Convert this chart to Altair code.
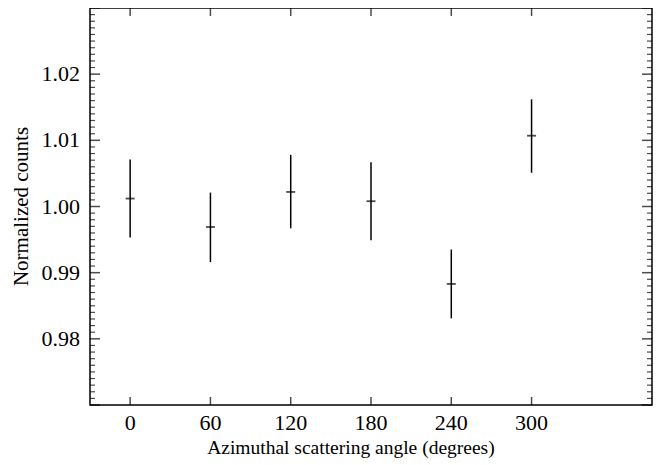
import altair as alt
import pandas as pd

angles = [0, 60, 120, 180, 240, 300]
counts = [1.0012, 0.9969, 1.0022, 1.0008, 0.9883, 1.0107]
lows = [0.9953, 0.9916, 0.9967, 0.9949, 0.9831, 1.0051]
highs = [1.0071, 1.0021, 1.0078, 1.0067, 0.9935, 1.0162]

x_ticks = [0, 60, 120, 180, 240, 300]
y_labels = [0.98, 0.99, 1.00, 1.01, 1.02]
y_major = [0.97, 0.98, 0.99, 1.00, 1.01, 1.02, 1.03]
y_minor = [round(0.97 + i * 0.001, 3) for i in range(61) if i % 10 != 0]

X_TITLE = "Azimuthal scattering angle (degrees)"
Y_TITLE = "Normalized counts"

X_MIN, X_MAX = -30, 390
Y_MIN, Y_MAX = 0.97, 1.03
X_TITLE_AT = 165
Y_TITLE_AT = 1.0
Y_TITLE_X = -81

W, H = 562, 397
FONT = "Liberation Serif"

df = pd.DataFrame({"angle": angles, "counts": counts, "low": lows, "high": highs})
ymaj_df = pd.DataFrame({"v": y_major})
ymin_df = pd.DataFrame({"v": y_minor})
xt_df = pd.DataFrame({"v": x_ticks})
ylab_df = pd.DataFrame({"v": y_labels})
xtitle_df = pd.DataFrame({"t": [X_TITLE]})
ytitle_df = pd.DataFrame({"t": [Y_TITLE]})

xs = alt.Scale(domain=[X_MIN, X_MAX], nice=False, zero=False)
ys = alt.Scale(domain=[Y_MIN, Y_MAX], nice=False, zero=False)

bars = alt.Chart(df).mark_rule(color="black", strokeWidth=1.5).encode(
    x=alt.X("angle:Q", scale=xs, axis=None),
    y=alt.Y("low:Q", scale=ys, axis=None),
    y2="high:Q",
)

centers = alt.Chart(df).mark_tick(orient="horizontal", color="black", size=9,
                                  thickness=1.8).encode(
    x=alt.X("angle:Q", scale=xs, axis=None),
    y=alt.Y("counts:Q", scale=ys, axis=None),
)


def ytick(data, at, length, offset, width):
    return alt.Chart(data).mark_tick(orient="horizontal", color="black", size=length,
                                     thickness=width, xOffset=offset).encode(
        x=alt.XDatum(at, scale=xs, axis=None),
        y=alt.Y("v:Q", scale=ys, axis=None),
    )


def xtick(at, offset):
    return alt.Chart(xt_df).mark_tick(orient="vertical", color="black", size=8,
                                      thickness=1.5, yOffset=offset).encode(
        x=alt.X("v:Q", scale=xs, axis=None),
        y=alt.YDatum(at, scale=ys, axis=None),
    )


ylabels = alt.Chart(ylab_df).mark_text(font=FONT, fontSize=22, color="black",
                                       align="right", baseline="middle", dx=-10).encode(
    x=alt.XDatum(X_MIN, scale=xs, axis=None),
    y=alt.Y("v:Q", scale=ys, axis=None),
    text=alt.Text("v:Q", format=".2f"),
)

xlabels = alt.Chart(xt_df).mark_text(font=FONT, fontSize=22, color="black",
                                     align="center", baseline="top", dy=8).encode(
    x=alt.X("v:Q", scale=xs, axis=None),
    y=alt.YDatum(Y_MIN, scale=ys, axis=None),
    text=alt.Text("v:Q", format="d"),
)

xtitle = alt.Chart(xtitle_df).mark_text(font=FONT, fontSize=19.5, color="black",
                                        align="center", baseline="middle", dy=43).encode(
    x=alt.XDatum(X_TITLE_AT, scale=xs, axis=None),
    y=alt.YDatum(Y_MIN, scale=ys, axis=None),
    text="t:N",
)

ytitle = alt.Chart(ytitle_df).mark_text(font=FONT, fontSize=21, color="black",
                                        align="center", baseline="middle",
                                        angle=270).encode(
    x=alt.XDatum(Y_TITLE_X, scale=xs, axis=None),
    y=alt.YDatum(Y_TITLE_AT, scale=ys, axis=None),
    text="t:N",
)

layers = [
    bars,
    centers,
    ytick(ymaj_df, X_MIN, 10, 5, 1.5),
    ytick(ymin_df, X_MIN, 5, 2.5, 1.2),
    ytick(ymaj_df, X_MAX, 10, -5, 1.5),
    ytick(ymin_df, X_MAX, 5, -2.5, 1.2),
    xtick(Y_MIN, -4),
    xtick(Y_MAX, 4),
    ylabels,
    xlabels,
    xtitle,
    ytitle,
]

chart = (
    alt.layer(*layers)
    .properties(width=W, height=H, autosize=alt.AutoSizeParams(type="none"),
                padding={"left": 82, "top": 0, "right": 10, "bottom": 55},
                background="white")
    .configure_view(stroke="black", strokeWidth=1.5)
)

chart.save("out.html", embed_options={"renderer": "svg", "actions": False})
